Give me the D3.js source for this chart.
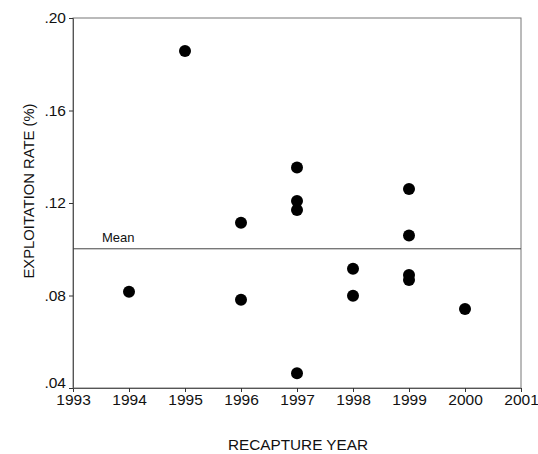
<!DOCTYPE html>
<html>
<head>
<meta charset="utf-8">
<script src="https://cdn.jsdelivr.net/npm/d3@7"></script>
<style>
  body { margin: 0; background: #fff; }
  text { font-family: Arial, "Liberation Sans", sans-serif; fill: #111; }
</style>
</head>
<body>
<svg id="chart"></svg>
<script>
// data
const years = [1994, 1995, 1996, 1996, 1997, 1997, 1997, 1997, 1998, 1998, 1999, 1999, 1999, 1999, 2000];
const rates = [0.0816, 0.1857, 0.1115, 0.0782, 0.1354, 0.1209, 0.1170, 0.0464, 0.0916, 0.0799, 0.1261, 0.1059, 0.0889, 0.0867, 0.0742];
const meanRate = 0.1002;
const xTicks = [1993, 1994, 1995, 1996, 1997, 1998, 1999, 2000, 2001];
const yTicks = [0.04, 0.08, 0.12, 0.16, 0.20];

const dimensions = {
    width: 538,
    height: 454,
    margin: { top: 18, right: 17, bottom: 66, left: 73 }
};
const plotW = dimensions.width - dimensions.margin.left - dimensions.margin.right;
const plotH = dimensions.height - dimensions.margin.top - dimensions.margin.bottom;

const svg = d3.select("#chart")
    .attr("width", dimensions.width)
    .attr("height", dimensions.height);

const g = svg.append("g")
    .attr("transform", `translate(${dimensions.margin.left},${dimensions.margin.top})`);

const xScale = d3.scaleLinear().domain([1993, 2001]).range([0, plotW]);
const yScale = d3.scaleLinear().domain([0.04, 0.20]).range([plotH, 0]);

// frame
g.append("rect")
    .attr("x", 0).attr("y", 0)
    .attr("width", plotW).attr("height", plotH)
    .attr("fill", "none")
    .attr("stroke", "#777")
    .attr("stroke-width", 1);

// axes
const xAxis = g.append("g")
    .attr("transform", `translate(0,${plotH})`)
    .call(d3.axisBottom(xScale).tickValues(xTicks).tickFormat(d3.format("d")).tickSize(4).tickPadding(2));

const yAxis = g.append("g")
    .call(d3.axisLeft(yScale).tickValues(yTicks).tickFormat(d => d3.format(".2f")(d).replace(/^0/, "")).tickSize(4).tickPadding(3));

[xAxis, yAxis].forEach(ax => {
    ax.select(".domain").attr("stroke", "#555");
    ax.selectAll(".tick line").attr("stroke", "#333");
    ax.selectAll(".tick text")
        .style("font-size", "15.5px")
        .attr("fill", "#111");
});
yAxis.selectAll(".tick text").attr("dy", d => d === 0.04 ? "-0.05em" : "0.3em");

// mean line
g.append("line")
    .attr("x1", 0).attr("x2", plotW)
    .attr("y1", yScale(meanRate)).attr("y2", yScale(meanRate))
    .attr("stroke", "#444")
    .attr("stroke-width", 1);

g.append("text")
    .attr("x", 29)
    .attr("y", yScale(meanRate) - 6.5)
    .style("font-size", "13px")
    .text("Mean");

// points
g.selectAll("circle")
    .data(years.map((y, i) => ({ year: y, rate: rates[i] })))
    .enter()
    .append("circle")
    .attr("cx", d => xScale(d.year))
    .attr("cy", d => yScale(d.rate))
    .attr("r", 6)
    .attr("fill", "#000");

// axis titles
svg.append("text")
    .attr("x", dimensions.margin.left + xScale(1997) + 1)
    .attr("y", 450)
    .attr("text-anchor", "middle")
    .style("font-size", "15.3px")
    .text("RECAPTURE YEAR");

svg.append("text")
    .attr("transform", `translate(34,191) rotate(-90)`)
    .attr("text-anchor", "middle")
    .style("font-size", "14.8px")
    .text("EXPLOITATION RATE (%)");
</script>
</body>
</html>
